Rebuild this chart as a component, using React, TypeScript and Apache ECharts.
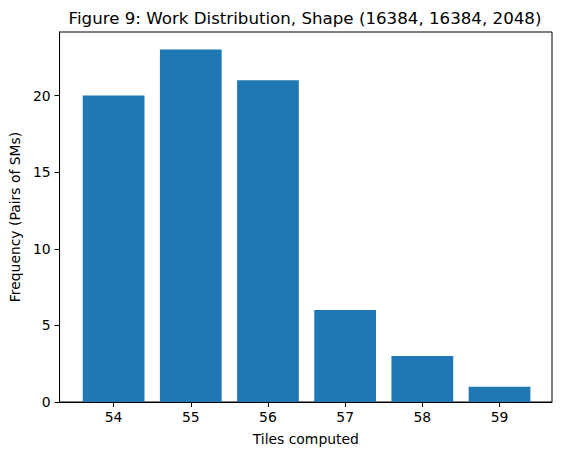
import React, { useEffect, useRef } from "react";
import * as echarts from "echarts";

const tiles = [54, 55, 56, 57, 58, 59];
const frequency = [20, 23, 21, 6, 3, 1];
const yTicks = [0, 5, 10, 15, 20];
const titleText = "Figure 9: Work Distribution, Shape (16384, 16384, 2048)";
const xName = "Tiles computed";
const yName = "Frequency (Pairs of SMs)";

const FONT = "DejaVu Sans";

export default function App() {
  const ref = useRef<HTMLDivElement>(null);
  useEffect(() => {
    const chart = echarts.init(ref.current!, null, { renderer: "svg" });
    const data = tiles.map((t, i) => [t, frequency[i]]);
    chart.setOption({
      animation: false,
      backgroundColor: "#fff",
      textStyle: { fontFamily: FONT },
      graphic: [
        {
          type: "text",
          x: 305,
          y: 18,
          style: {
            text: titleText,
            fontFamily: FONT,
            fontSize: 16.67,
            fill: "#000",
            align: "center",
            verticalAlign: "middle",
          },
        },
      ],
      grid: {
        left: 57,
        right: 10,
        top: 32,
        bottom: 53,
        show: true,
        borderColor: "#000",
        borderWidth: 1,
        backgroundColor: "transparent",
      },
      xAxis: {
        type: "value",
        min: 53.3,
        max: 59.68,
        name: xName,
        nameLocation: "middle",
        nameGap: 30,
        nameTextStyle: { fontFamily: FONT, fontSize: 13.9, color: "#000" },
        splitLine: { show: false },
        axisLine: { show: true, lineStyle: { color: "#000", width: 1 } },
        axisTick: { show: true, inside: false, length: 5, lineStyle: { color: "#000" }, customValues: tiles },
        axisLabel: { show: true, margin: 8, fontFamily: FONT, fontSize: 13.9, color: "#000", customValues: tiles },
      },
      yAxis: {
        type: "value",
        min: 0,
        max: 24.15,
        name: yName,
        nameLocation: "middle",
        nameGap: 37,
        nameRotate: 90,
        nameTextStyle: { fontFamily: FONT, fontSize: 13.9, color: "#000" },
        splitLine: { show: false },
        axisLine: { show: true, lineStyle: { color: "#000", width: 1 } },
        axisTick: { show: true, inside: false, length: 5, lineStyle: { color: "#000" }, customValues: yTicks },
        axisLabel: { show: true, margin: 9, fontFamily: FONT, fontSize: 13.9, color: "#000", customValues: yTicks },
      },
      series: [
        {
          type: "custom",
          data,
          encode: { x: 0, y: 1 },
          renderItem: (params: any, api: any) => {
            const x = api.value(0);
            const y = api.value(1);
            const p1 = api.coord([x - 0.4, y]);
            const p2 = api.coord([x + 0.4, 0]);
            return {
              type: "rect",
              shape: { x: p1[0], y: p1[1], width: p2[0] - p1[0], height: p2[1] - p1[1] },
              style: { fill: "#1f77b4" },
            };
          },
        },
      ],
    });
    return () => chart.dispose();
  }, []);
  return (
    <div
      ref={ref}
      style={{ position: "fixed", left: 0, top: 0, width: 562, height: 455, background: "#fff" }}
    />
  );
}
